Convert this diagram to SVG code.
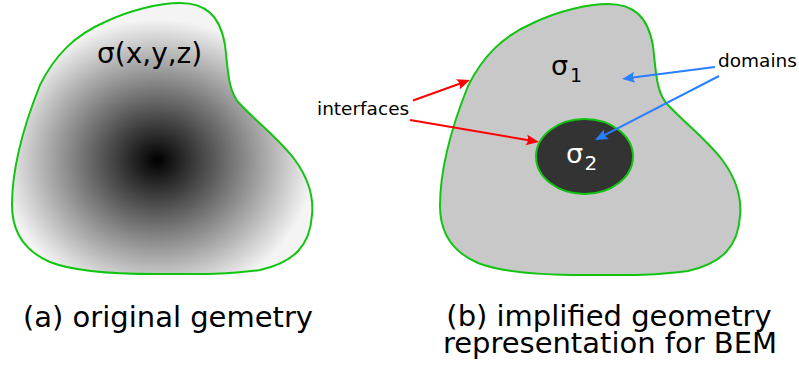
<svg xmlns="http://www.w3.org/2000/svg" width="799" height="367" viewBox="0 0 799 367">
  <style>
    .outline { stroke: #12c412; stroke-width: 2; }
    .lbl { font-family: "DejaVu Sans", "Liberation Sans", sans-serif; fill: #000; }
    .red { stroke: #ff0000; stroke-width: 2; fill: none; marker-end: url(#arrowRed); }
    .blue { stroke: #2a7fff; stroke-width: 2; fill: none; marker-end: url(#arrowBlue); }
  </style>
  <defs>
    <radialGradient id="grad" cx="0.483" cy="0.58" r="0.52">
      <stop offset="0" stop-color="#000"/>
      <stop offset="1" stop-color="#f4f4f4"/>
    </radialGradient>
    <path id="blob" d="M 155 274 C 120 274, 75 272, 50 262 C 22 250, 12 230, 12 205 C 12 170, 22 130, 40 85 C 55 55, 75 35, 105 22 C 130 10, 160 3, 180 3 C 205 3, 220 15, 225 45 C 228 70, 228 92, 240 104 C 260 125, 280 140, 295 160 C 308 178, 314 195, 312 215 C 310 245, 295 262, 260 270 C 225 275, 190 274, 155 274 Z"/>
    <marker id="arrowRed" markerUnits="userSpaceOnUse" orient="auto" refX="-3" refY="0" overflow="visible">
      <path d="M 0 0 L -13 -5.5 C -10.5 -2, -10.5 2, -13 5.5 Z" fill="#ff0000"/>
    </marker>
    <marker id="arrowBlue" markerUnits="userSpaceOnUse" orient="auto" refX="-3" refY="0" overflow="visible">
      <path d="M 0 0 L -13 -5.5 C -10.5 -2, -10.5 2, -13 5.5 Z" fill="#2a7fff"/>
    </marker>
  </defs>

  <g id="original-geometry">
    <use href="#blob" fill="url(#grad)" class="outline"/>
    <text class="lbl" x="97" y="63" font-size="28" fill="#111">σ(x,y,z)</text>
  </g>

  <g id="domain-sigma1">
    <use href="#blob" transform="translate(428,1)" fill="#c8c8c8" class="outline"/>
    <text class="lbl" x="551" y="75" font-size="27">σ<tspan x="570" y="82" font-size="19">1</tspan></text>
  </g>

  <g id="domain-sigma2">
    <ellipse cx="584.5" cy="156.5" rx="48.5" ry="37.5" fill="#333333" class="outline"/>
    <text class="lbl" x="566" y="163" font-size="27" style="fill:#fff">σ<tspan x="584.5" y="170" font-size="20">2</tspan></text>
  </g>

  <g id="label-interfaces">
    <text class="lbl" x="317" y="115" font-size="18.5">interfaces</text>
  </g>
  <g id="label-domains">
    <text class="lbl" x="718" y="67" font-size="18.5">domains</text>
  </g>

  <g id="connectors">
    <line class="red" x1="413" y1="100.5" x2="467.2" y2="81"/>
    <line class="red" x1="410" y1="120" x2="536" y2="141.5"/>
    <line class="blue" x1="715" y1="67" x2="625" y2="78.6"/>
    <line class="blue" x1="719" y1="76" x2="597.7" y2="138.6"/>
  </g>

  <g id="captions">
    <text class="lbl" x="168" y="327" font-size="29" text-anchor="middle">(a) original gemetry</text>
    <text class="lbl" x="609" y="326" font-size="29" text-anchor="middle">(b) implified geometry</text>
    <text class="lbl" x="610" y="353" font-size="29" text-anchor="middle">representation for BEM</text>
  </g>
</svg>
